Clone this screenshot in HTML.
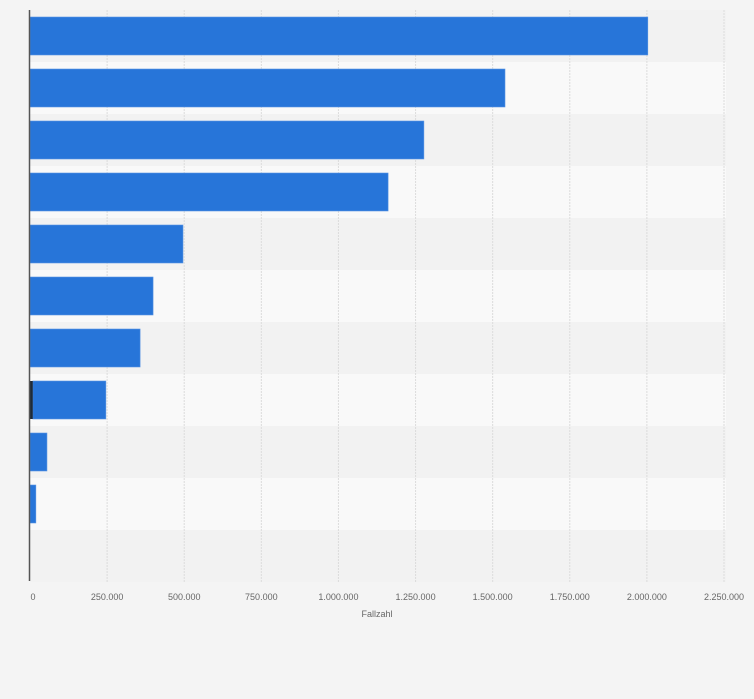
<!DOCTYPE html>
<html><head><meta charset="utf-8"><style>
body{margin:0;background:#f4f4f4;font-family:"Liberation Sans",sans-serif}
svg{display:block}
</style></head><body>
<svg width="754" height="699">
<rect x="0" y="0" width="754" height="699" fill="#f4f4f4"/>
<g id="bands"></g><g id="grid"></g><g id="bars"></g><g id="ticks"></g>
<line x1="29.5" y1="10" x2="29.5" y2="581" stroke="#555" stroke-width="1.5"/>
<text x="377" y="617" text-anchor="middle" font-size="9" fill="#666">Fallzahl</text>
</svg>
<script>
const categories=["A","B","C","D","E","F","G","H","I","J","K"];
const values=[2003000,1540000,1277000,1161000,496000,399000,357000,246000,55000,19000,0];
const secondary=[0,0,0,0,0,0,0,9000,0,0,0];
const tickValues=[0,250000,500000,750000,1000000,1250000,1500000,1750000,2000000,2250000];
const tickLabels=["0","250.000","500.000","750.000","1.000.000","1.250.000","1.500.000","1.750.000","2.000.000","2.250.000"];
const NS="http://www.w3.org/2000/svg";
const x0=30,x1=724,xMax=2250000,plotTop=10,band=52;
const xs=v=>x0+(v/xMax)*(x1-x0);
const ys=i=>plotTop+i*band;
function mk(t,a,p){const e=document.createElementNS(NS,t);for(const k in a)e.setAttribute(k,a[k]);document.getElementById(p).appendChild(e);return e;}
categories.forEach((c,i)=>{
 const b=mk("rect",{x:x0,y:ys(i),width:x1+2-x0,height:band,fill:i%2?"#f9f9f9":"#f2f2f2"},"bands");
 
 
});
tickValues.forEach((v,i)=>{
 if(i>0){const g=mk("line",{x1:xs(v),x2:xs(v),y1:plotTop,y2:plotTop+band*11,stroke:"#dcdcdc","stroke-dasharray":"2,1"},"grid");
 
 }
 const t=mk("text",{x:xs(v)+(i==0?3:0),y:600,"text-anchor":"middle","font-size":"9",fill:"#666"},"ticks");
 t.textContent=tickLabels[i];
 
 
});
categories.forEach((c,i)=>{
 if(values[i]>0){const r=mk("rect",{x:xs(secondary[i]),y:ys(i)+7,width:xs(values[i])-xs(secondary[i]),height:38,fill:"#2775d9",stroke:"#5a95e3","stroke-width":"0.6"},"bars");
 
 }
 if(secondary[i]>0){const s=mk("rect",{x:x0,y:ys(i)+7,width:xs(secondary[i])-x0,height:38,fill:"#1d2b3a"},"bars");
 
 }
});
</script>
</body></html>
